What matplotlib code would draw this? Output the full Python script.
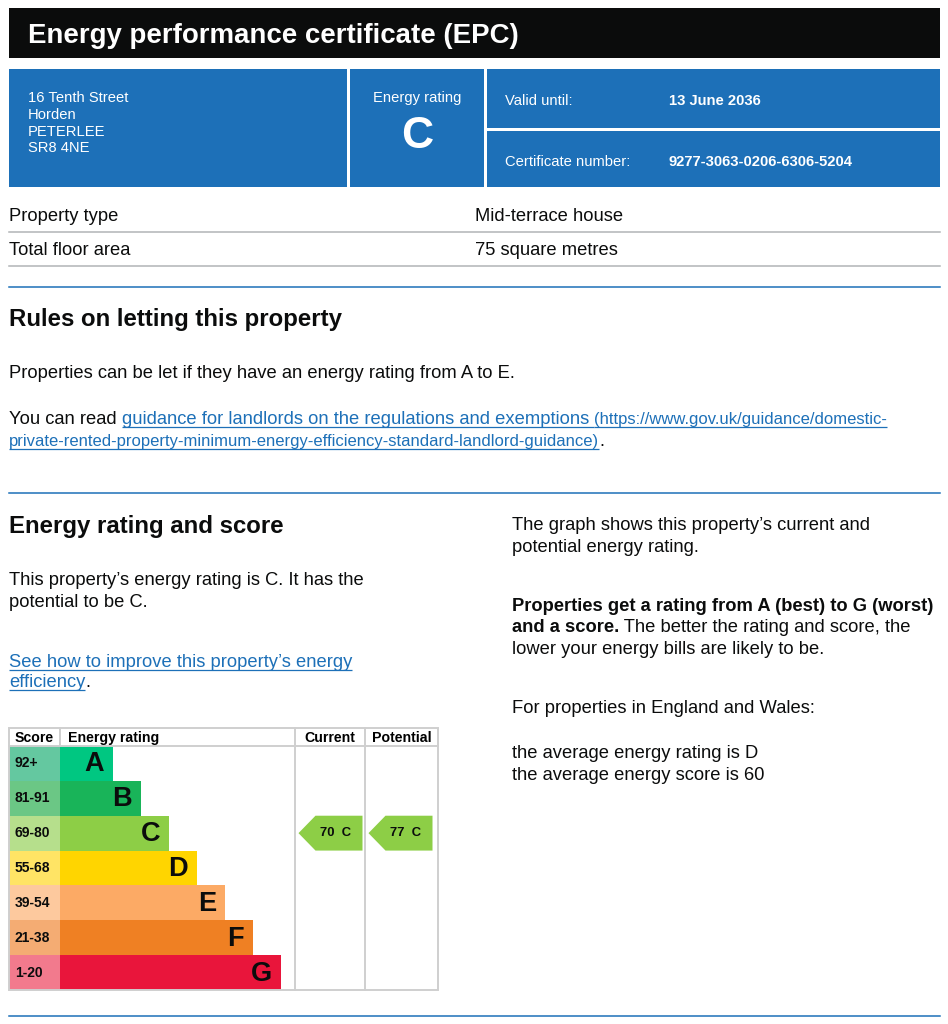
import matplotlib
matplotlib.use("Agg")
import matplotlib.pyplot as plt
from matplotlib.patches import Rectangle, Polygon

plt.rcParams['font.family'] = ['Liberation Sans', 'DejaVu Sans']

# ---------------- data ----------------
bands = ['A', 'B', 'C', 'D', 'E', 'F', 'G']
score_ranges = ['92+', '81-91', '69-80', '55-68', '39-54', '21-38', '1-20']
band_min = [92, 81, 69, 55, 39, 21, 1]
band_colors = ['#00c781', '#19b459', '#8dce46', '#ffd500', '#fcaa65', '#ef8023', '#e9153b']
score_colors = ['#64c8a0', '#6bc785', '#b6df8c', '#ffe465', '#fdc99e', '#f4ac73', '#f27a8d']
current_score = 70
potential_score = 77

address_lines = ['16 Tenth Street', 'Horden', 'PETERLEE', 'SR8 4NE']
rating_letter = 'C'
valid_until = '13 June 2036'
cert_number = '9277-3063-0206-6306-5204'
property_rows = [('Property type', 'Mid-terrace house'), ('Total floor area', '75 square metres')]

BLUE = '#1d70b8'
GREY = '#b1b4b6'
INK = '#0b0c0c'
BODY = 13.2
SMALL = 12
BOX = 10.6

fig = plt.figure(figsize=(9.48, 10.24), dpi=100)
ax = fig.add_axes([0, 0, 1, 1])
ax.set_xlim(0, 948)
ax.set_ylim(1024, 0)
ax.axis('off')
renderer = fig.canvas.get_renderer()


def width_of(txt, **kw):
    t = ax.text(0, 0, txt, **kw)
    w = t.get_window_extent(renderer=renderer).width
    t.remove()
    return w


def advance(txt, **kw):
    return width_of(txt + 'l', **kw) - width_of('l', **kw)


def runs(x, y, parts):
    for txt, kw, link in parts:
        kw = dict(kw)
        kw.setdefault('fontsize', BODY)
        kw.setdefault('color', BLUE if link else INK)
        ax.text(x, y, txt, va='baseline', ha='left', **kw)
        w = advance(txt, **kw)
        if link:
            ax.plot([x, x + w], [y + 2.5, y + 2.5], color=BLUE, lw=0.9, solid_capstyle='butt')
        x += w
    return x


# ---------------- header ----------------
ax.add_patch(Rectangle((9, 8), 931, 50, color=INK, lw=0))
ax.text(28, 43, 'Energy performance certificate (EPC)', color='white', fontsize=19.9,
        fontweight='bold', va='baseline')

ax.add_patch(Rectangle((9, 69), 338, 118, color=BLUE, lw=0))
ax.add_patch(Rectangle((350, 69), 134, 118, color=BLUE, lw=0))
ax.add_patch(Rectangle((487, 69), 453, 59, color=BLUE, lw=0))
ax.add_patch(Rectangle((487, 131), 453, 56, color=BLUE, lw=0))
for i, line in enumerate(address_lines):
    ax.text(28, 102 + i * 16.8, line, color='white', fontsize=BOX, va='baseline')
ax.text(417, 102, 'Energy rating', color='white', fontsize=BOX, ha='center', va='baseline')
ax.text(417, 147.5, rating_letter, color='white', fontsize=32, fontweight='bold',
        ha='center', va='baseline')
ax.text(505, 105, 'Valid until:', color='white', fontsize=BOX, va='baseline')
ax.text(669, 105, valid_until, color='white', fontsize=BOX, fontweight='bold', va='baseline')
ax.text(505, 166, 'Certificate number:', color='white', fontsize=BOX, va='baseline')
ax.text(669, 166, cert_number, color='white', fontsize=BOX, fontweight='bold', va='baseline')

for i, (k, v) in enumerate(property_rows):
    yb = 221 + i * 34
    ax.text(9, yb, k, fontsize=BODY, color=INK, va='baseline')
    ax.text(475, yb, v, fontsize=BODY, color=INK, va='baseline')
    ax.plot([9, 940], [232 + i * 34, 232 + i * 34], color=GREY, lw=1.1)

# ---------------- rules on letting ----------------
ax.plot([9, 940], [287, 287], color=BLUE, lw=1.1)
ax.text(9, 326, 'Rules on letting this property', fontsize=17.3, fontweight='bold',
        color=INK, va='baseline')
runs(9, 378, [('Properties can be let if they have an energy rating from A to E.', {}, False)])
runs(9, 424, [('You can read ', {}, False),
              ('guidance for landlords on the regulations and exemptions ', {}, True),
              ('(https://www.gov.uk/guidance/domestic-', {'fontsize': SMALL}, True)])
runs(9, 446, [('private-rented-property-minimum-energy-efficiency-standard-landlord-guidance)',
               {'fontsize': SMALL}, True),
              ('.', {}, False)])

# ---------------- energy rating and score ----------------
ax.plot([9, 940], [493, 493], color=BLUE, lw=1.1)
ax.text(9, 533, 'Energy rating and score', fontsize=17.3, fontweight='bold',
        color=INK, va='baseline')
runs(9, 585, [('This property\u2019s energy rating is C. It has the', {}, False)])
runs(9, 607, [('potential to be C.', {}, False)])
runs(9, 667, [('See how to improve this property\u2019s energy', {}, True)])
runs(9, 687, [('efficiency', {}, True), ('.', {}, False)])

rx = 512
runs(rx, 530, [('The graph shows this property\u2019s current and', {}, False)])
runs(rx, 552, [('potential energy rating.', {}, False)])
runs(rx, 611, [('Properties get a rating from A (best) to G (worst)', {'fontweight': 'bold'}, False)])
runs(rx, 632, [('and a score.', {'fontweight': 'bold'}, False),
               (' The better the rating and score, the', {}, False)])
runs(rx, 654, [('lower your energy bills are likely to be.', {}, False)])
runs(rx, 713, [('For properties in England and Wales:', {}, False)])
runs(rx, 758, [('the average energy rating is D', {}, False)])
runs(rx, 780, [('the average energy score is 60', {}, False)])

ax.plot([9, 940], [1016, 1016], color=BLUE, lw=1.1)

# ---------------- EPC graph ----------------
gx0, gx1 = 9, 438
gy0, gyh, gy1 = 728, 746, 990
xs, xc, xp = 60, 295, 365
rh = (gy1 - gyh) / len(bands)
centers = [gyh + rh * (i + 0.5) for i in range(len(bands))]

ax.barh(centers, [xs - gx0] * len(bands), left=gx0, height=rh, color=score_colors, lw=0)
bar_w = [53 + 28 * i for i in range(len(bands))]
ax.barh(centers, bar_w, left=xs, height=rh, color=band_colors, lw=0)
for i in range(len(bands)):
    ax.text(15, centers[i], score_ranges[i], fontsize=10, fontweight='bold',
            color=INK, va='center')
    ax.text(xs + bar_w[i] - 9, centers[i] + 1, bands[i], fontsize=19.5, fontweight='bold',
            color=INK, va='center', ha='right')

lc = '#cfcfcf'
ax.add_patch(Rectangle((gx0, gy0), gx1 - gx0, gy1 - gy0, fill=False, ec=lc, lw=1.4))
ax.plot([gx0, gx1], [gyh, gyh], color=lc, lw=1.4)
ax.plot([xs, xs], [gy0, gyh], color=lc, lw=1.4)
ax.plot([xc, xc], [gy0, gy1], color=lc, lw=1.4)
ax.plot([xp, xp], [gy0, gy1], color=lc, lw=1.4)
hy = (gy0 + gyh) / 2 + 1
ax.text(15, hy, 'Score', fontsize=10.2, fontweight='bold', va='center')
ax.text(68, hy, 'Energy rating', fontsize=10.2, fontweight='bold', va='center')
ax.text((xc + xp) / 2, hy, 'Current', fontsize=10.2, fontweight='bold', va='center', ha='center')
ax.text((xp + gx1) / 2, hy, 'Potential', fontsize=10.2, fontweight='bold', va='center', ha='center')


def band_index(score):
    for i, m in enumerate(band_min):
        if score >= m:
            return i
    return len(band_min) - 1


for score, cl in [(current_score, xc), (potential_score, xp)]:
    i = band_index(score)
    top, bot = gyh + rh * i, gyh + rh * (i + 1)
    tip = cl + 3.5
    right = tip + 64
    notch = tip + 17
    ax.add_patch(Polygon([(tip, (top + bot) / 2), (notch, top), (right, top), (right, bot), (notch, bot)],
                         closed=True, color=band_colors[i], lw=0))
    ax.text(tip + 37, centers[i], f'{score}  {bands[i]}', fontsize=9.4,
            fontweight='bold', va='center', ha='center', color=INK)

fig.savefig('out.png', dpi=100)
